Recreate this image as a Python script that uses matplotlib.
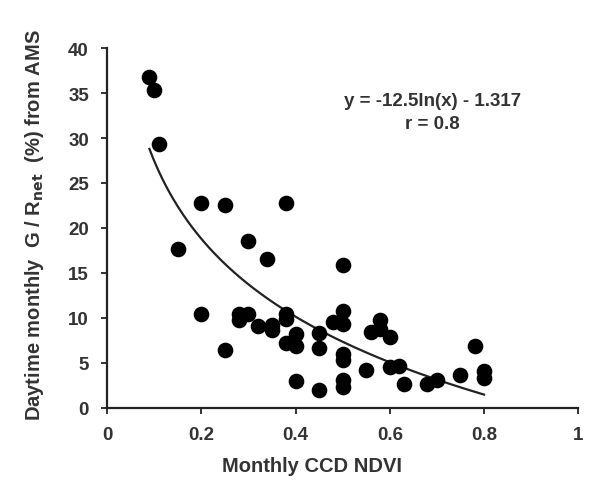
import numpy as np
import matplotlib.pyplot as plt

plt.rcParams['font.family'] = ['Liberation Sans', 'DejaVu Sans']
plt.rcParams['font.weight'] = 'bold'
plt.rcParams['axes.labelweight'] = 'bold'

# monthly CCD NDVI vs daytime G / Rnet (%)
ndvi = [0.09, 0.10, 0.11, 0.15, 0.20, 0.25, 0.38, 0.30, 0.34, 0.50,
        0.20, 0.28, 0.28, 0.30, 0.32, 0.35, 0.35, 0.38, 0.38, 0.40,
        0.38, 0.40, 0.25, 0.45, 0.45, 0.48, 0.50, 0.50, 0.50, 0.50,
        0.40, 0.45, 0.50, 0.50, 0.58, 0.56, 0.58, 0.60, 0.55, 0.60,
        0.62, 0.63, 0.68, 0.70, 0.75, 0.78, 0.80, 0.80]
g_rnet = [36.8, 35.3, 29.3, 17.7, 22.8, 22.6, 22.8, 18.6, 16.6, 15.9,
          10.4, 10.4, 9.8, 10.4, 9.1, 9.2, 8.6, 10.4, 9.9, 8.2,
          7.2, 6.9, 6.4, 8.3, 6.6, 9.6, 10.8, 9.3, 6.0, 5.3,
          3.0, 2.0, 3.1, 2.3, 9.8, 8.4, 8.8, 7.9, 4.2, 4.5,
          4.6, 2.7, 2.7, 3.1, 3.7, 6.9, 4.1, 3.3]

# log fit reported on the chart
fit_a, fit_b = -12.5, -1.317
fit_x = np.linspace(0.09, 0.8, 200)
fit_y = fit_a * np.log(fit_x) + fit_b

fig = plt.figure(figsize=(5.98, 4.81), dpi=100)
ax = fig.add_axes([0.179, 0.150, 0.788, 0.748])

ax.scatter(ndvi, g_rnet, s=105, color='black', zorder=3)
ax.plot(fit_x, fit_y, color='#222222', lw=1.6, zorder=2)

ax.set_xlim(0, 1)
ax.set_ylim(0, 40)
ax.set_xticks([0, 0.2, 0.4, 0.6, 0.8, 1])
ax.set_xticklabels(['0', '0.2', '0.4', '0.6', '0.8', '1'])
ax.set_yticks(range(0, 41, 5))

for side in ['top', 'right']:
    ax.spines[side].set_visible(False)
for side in ['left', 'bottom']:
    ax.spines[side].set_linewidth(1.6)
    ax.spines[side].set_color('#222222')

ax.tick_params(direction='out', length=4, width=1.4, labelsize=13.5,
               colors='#333333', pad=9)

ax.set_xlabel('Monthly CCD NDVI', fontsize=14.5, color='#333333',
              fontweight='bold', labelpad=10)
ax.xaxis.set_label_coords(0.435, -0.135)
ax.set_ylabel(r'Daytime monthly  G / R$_{\mathbf{net}}$  (%) from AMS',
              fontsize=14.5, color='#333333', fontweight='bold')
ax.yaxis.set_label_coords(-0.13, 0.51)

ax.text(0.69, 0.855, 'y = -12.5ln(x) - 1.317', transform=ax.transAxes,
        ha='center', va='center', fontsize=13.5, color='#333333')
ax.text(0.69, 0.79, 'r = 0.8', transform=ax.transAxes,
        ha='center', va='center', fontsize=13.5, color='#333333')

fig.savefig('out.png', dpi=100)
